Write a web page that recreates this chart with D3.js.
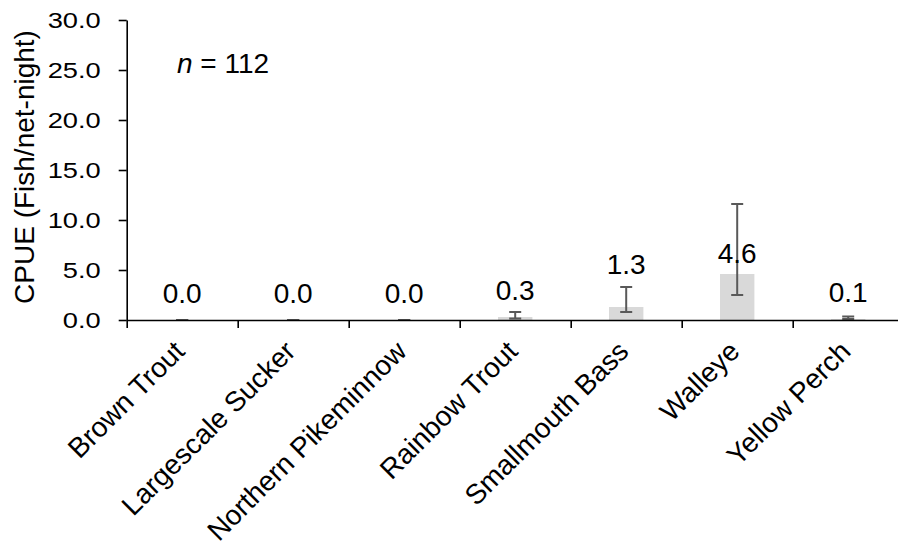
<!DOCTYPE html>
<html>
<head>
<meta charset="utf-8">
<script src="https://cdn.jsdelivr.net/npm/d3@7"></script>
<style>
  html, body { margin: 0; padding: 0; background: #fff; }
  svg { display: block; font-family: "Liberation Sans", Arial, Helvetica, sans-serif; }
</style>
</head>
<body>
<svg id="chart" width="898" height="546"></svg>
<script>
// Gill-net catch per unit effort by species
const categories = ["Brown Trout", "Largescale Sucker", "Northern Pikeminnow", "Rainbow Trout", "Smallmouth Bass", "Walleye", "Yellow Perch"];
const cpue = [0.0, 0.0, 0.0, 0.3, 1.3, 4.6, 0.1];
const errLow = [0.0, 0.0, 0.0, 0.15, 0.8, 2.5, 0.1];
const errHigh = [0.0, 0.0, 0.0, 0.8, 3.3, 11.6, 0.35];
const yTicks = [0, 5, 10, 15, 20, 25, 30];
const sampleSize = 112;

const svg = d3.select("#chart");
const plotLeft = 126.7, plotRight = 903.7, plotTop = 20, plotBottom = 320;

const x = d3.scaleBand().domain(categories).range([plotLeft, plotRight])
  .paddingInner(0.69).paddingOuter(0.345);
const xEdges = d3.scaleLinear().domain([0, categories.length]).range([plotLeft, plotRight]);
const y = d3.scaleLinear().domain([0, 30]).range([plotBottom, plotTop]);

// bars
svg.append("g").selectAll("rect").data(categories).join("rect")
  .attr("x", d => x(d))
  .attr("width", x.bandwidth())
  .attr("y", (d, i) => y(cpue[i]))
  .attr("height", (d, i) => y(0) - y(cpue[i]))
  .attr("fill", "#d9d9d9");

// error bars
const capW = 12;
const eb = svg.append("g").attr("stroke", "#595959").attr("stroke-width", 2).attr("fill", "none");
categories.forEach((c, i) => {
  const cx = x(c) + x.bandwidth() / 2;
  const g = eb.append("g");
  g.append("line").attr("x1", cx).attr("x2", cx).attr("y1", y(errLow[i])).attr("y2", y(errHigh[i]));
  g.append("line").attr("x1", cx - capW / 2).attr("x2", cx + capW / 2).attr("y1", y(errLow[i])).attr("y2", y(errLow[i]));
  g.append("line").attr("x1", cx - capW / 2).attr("x2", cx + capW / 2).attr("y1", y(errHigh[i])).attr("y2", y(errHigh[i]));
});

// y axis
const yAxis = svg.append("g").attr("transform", `translate(${plotLeft},0)`)
  .call(d3.axisLeft(y).tickValues(yTicks).tickFormat(d3.format(".1f")).tickSize(8).tickSizeOuter(0));
yAxis.select(".domain").attr("stroke", "#000").attr("stroke-width", 1.6);
yAxis.selectAll(".tick line").attr("stroke", "#000").attr("stroke-width", 1.6);
yAxis.selectAll(".tick text")
  .attr("x", null)
  .attr("transform", "translate(-26,0) scale(1.24,1)")
  .attr("fill", "#000")
  .style("font-size", "22px");

// x axis (ticks sit between categories)
const xAxis = svg.append("g").attr("transform", `translate(0,${plotBottom})`)
  .call(d3.axisBottom(xEdges).tickValues(d3.range(categories.length + 1)).tickFormat("").tickSize(8).tickSizeOuter(0));
xAxis.select(".domain").attr("stroke", "#000").attr("stroke-width", 1.6);
xAxis.selectAll(".tick line").attr("stroke", "#000").attr("stroke-width", 1.6);

// category labels, slanted
svg.append("g").selectAll("text").data(categories).join("text")
  .attr("transform", d => `translate(${x(d) + x.bandwidth() / 2 + 4},${plotBottom + 33}) rotate(-45)`)
  .attr("text-anchor", "end")
  .style("font-size", "28px")
  .attr("fill", "#000")
  .text(d => d);

// value labels (lifted in px above the bar top)
const labelLift = [17, 17, 17, 17, 33, 11, 17.5];
svg.append("g").selectAll("text").data(categories).join("text")
  .attr("x", d => x(d) + x.bandwidth() / 2)
  .attr("y", (d, i) => y(cpue[i]) - labelLift[i])
  .attr("text-anchor", "middle")
  .style("font-size", "28px")
  .attr("fill", "#000")
  .text((d, i) => d3.format(".1f")(cpue[i]));

// sample size note
const note = svg.append("text").attr("x", 177).attr("y", 73).style("font-size", "28px").attr("fill", "#000");
note.append("tspan").style("font-style", "italic").text("n");
note.append("tspan").text(" = " + sampleSize);

// y axis title
svg.append("text")
  .attr("transform", `translate(34,167) rotate(-90)`)
  .attr("text-anchor", "middle")
  .style("font-size", "28px")
  .attr("fill", "#000")
  .text("CPUE (Fish/net-night)");
</script>
</body>
</html>
